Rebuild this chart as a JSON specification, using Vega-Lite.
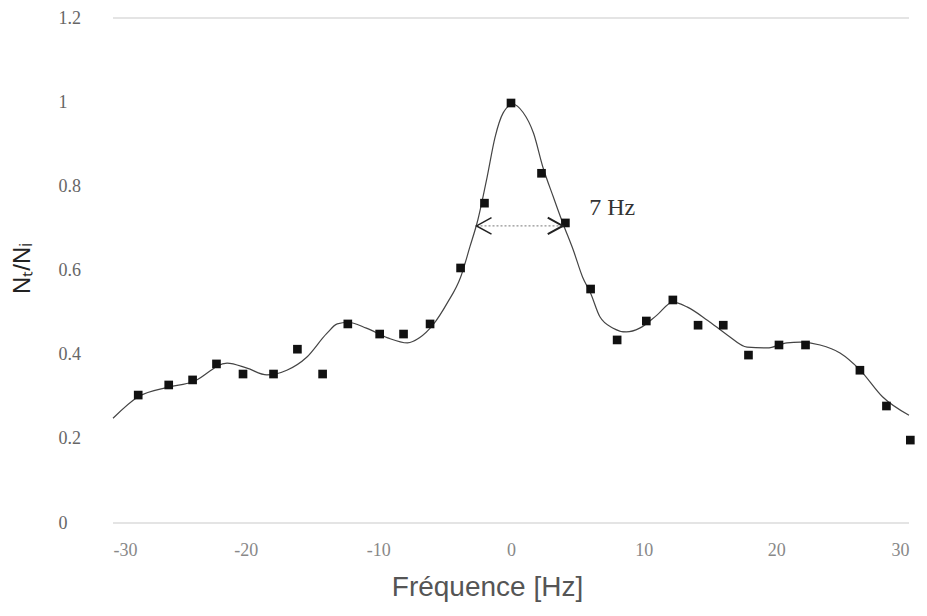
{
  "$schema": "https://vega.github.io/schema/vega-lite/v6.json",
  "width": 796,
  "height": 505,
  "autosize": {"type": "none"},
  "padding": {"left": 113, "top": 18, "right": 18, "bottom": 93},
  "background": "white",
  "config": {"view": {"stroke": null}},
  "datasets": {
    "points": [
      {"f": -28.1, "n": 0.304}, {"f": -25.8, "n": 0.328}, {"f": -24.0, "n": 0.34}, {"f": -22.2, "n": 0.378},
      {"f": -20.2, "n": 0.354}, {"f": -17.9, "n": 0.354}, {"f": -16.1, "n": 0.413}, {"f": -14.2, "n": 0.354},
      {"f": -12.3, "n": 0.473}, {"f": -9.9, "n": 0.449}, {"f": -8.1, "n": 0.449}, {"f": -6.1, "n": 0.473},
      {"f": -3.8, "n": 0.606}, {"f": -2.0, "n": 0.76}, {"f": 0.0, "n": 0.998}, {"f": 2.3, "n": 0.831},
      {"f": 4.1, "n": 0.713}, {"f": 6.0, "n": 0.556}, {"f": 8.0, "n": 0.435}, {"f": 10.2, "n": 0.48},
      {"f": 12.2, "n": 0.53}, {"f": 14.1, "n": 0.47}, {"f": 16.0, "n": 0.47}, {"f": 17.9, "n": 0.399},
      {"f": 20.2, "n": 0.423}, {"f": 22.2, "n": 0.423}, {"f": 26.3, "n": 0.363}, {"f": 28.3, "n": 0.278},
      {"f": 30.1, "n": 0.197}
    ],
    "curve": [
      {"f": -30, "n": 0.249}, {"f": -28.1, "n": 0.3}, {"f": -25.8, "n": 0.323}, {"f": -24.0, "n": 0.335},
      {"f": -21.4, "n": 0.38}, {"f": -19.9, "n": 0.368}, {"f": -18.4, "n": 0.352}, {"f": -16.9, "n": 0.363},
      {"f": -15.4, "n": 0.394}, {"f": -13.9, "n": 0.45}, {"f": -13.1, "n": 0.473}, {"f": -12.3, "n": 0.477},
      {"f": -10.9, "n": 0.463}, {"f": -9.3, "n": 0.44}, {"f": -7.8, "n": 0.428}, {"f": -6.9, "n": 0.44},
      {"f": -5.9, "n": 0.47}, {"f": -4.8, "n": 0.523}, {"f": -3.8, "n": 0.584}, {"f": -3.1, "n": 0.656},
      {"f": -2.5, "n": 0.72}, {"f": -1.8, "n": 0.822}, {"f": -1.2, "n": 0.917}, {"f": -0.6, "n": 0.974},
      {"f": 0.15, "n": 0.995}, {"f": 0.9, "n": 0.976}, {"f": 1.7, "n": 0.926}, {"f": 2.4, "n": 0.846},
      {"f": 3.2, "n": 0.774}, {"f": 3.9, "n": 0.713}, {"f": 4.7, "n": 0.648}, {"f": 5.4, "n": 0.584},
      {"f": 6.0, "n": 0.546}, {"f": 6.7, "n": 0.49}, {"f": 7.7, "n": 0.463}, {"f": 8.7, "n": 0.454},
      {"f": 9.7, "n": 0.463}, {"f": 11.0, "n": 0.494}, {"f": 12.2, "n": 0.525}, {"f": 13.3, "n": 0.513},
      {"f": 14.8, "n": 0.482}, {"f": 16.3, "n": 0.447}, {"f": 17.8, "n": 0.418}, {"f": 19.3, "n": 0.416},
      {"f": 20.8, "n": 0.428}, {"f": 21.8, "n": 0.43}, {"f": 23.3, "n": 0.423}, {"f": 24.8, "n": 0.404},
      {"f": 26.3, "n": 0.364}, {"f": 28.0, "n": 0.3}, {"f": 30.0, "n": 0.256}
    ],
    "arrow": [{"f1": -2.6, "f2": 3.9, "n": 0.706}],
    "label": [{"f": 5.9, "n": 0.748, "t": "7 Hz"}],
    "frame": [{"n": 0}, {"n": 1.2}]
  },
  "layer": [
    {
      "data": {"name": "frame"},
      "mark": {"type": "rule", "color": "#e4e4e4", "strokeWidth": 2},
      "encoding": {
        "y": {"field": "n", "type": "quantitative", "scale": {"domain": [0, 1.2], "nice": false, "zero": false},
          "axis": {
            "values": [0, 0.2, 0.4, 0.6, 0.8, 1, 1.2],
            "format": "~g",
            "domain": false, "ticks": false, "tickSize": 0, "grid": false,
            "labelAlign": "left", "labelBaseline": "middle", "labelPadding": 55,
            "labelFont": "Liberation Serif", "labelFontSize": 18, "labelColor": "#666",
            "title": "Nₜ/Nᵢ", "titleFont": "Liberation Sans", "titleFontSize": 24, "titleFontWeight": "normal",
            "titleColor": "#222", "titleAngle": -90, "titleX": -91, "titleY": 250, "titleAlign": "center", "titleBaseline": "middle"
          }
        }
      }
    },
    {
      "data": {"name": "curve"},
      "mark": {"type": "line", "interpolate": "monotone", "color": "#444", "strokeWidth": 1.2},
      "encoding": {
        "x": {"field": "f", "type": "quantitative", "scale": {"domain": [-30, 30], "nice": false},
          "axis": {
            "values": [-30, -20, -10, 0, 10, 20, 30],
            "labelExpr": "'' + datum.value",
            "domain": false, "ticks": false, "tickSize": 0, "grid": false,
            "labelPadding": 18, "labelBaseline": "top",
            "labelFont": "Liberation Serif", "labelFontSize": 18, "labelColor": "#888",
            "title": "Fréquence [Hz]", "titleFont": "Liberation Sans", "titleFontSize": 28, "titleFontWeight": "normal",
            "titleColor": "#555", "titleX": 374, "titleAlign": "center", "titlePadding": 14
          }
        },
        "y": {"field": "n", "type": "quantitative"}
      }
    },
    {
      "data": {"name": "points"},
      "mark": {"type": "point", "shape": "square", "filled": true, "size": 75, "color": "#111", "opacity": 1},
      "encoding": {
        "x": {"field": "f", "type": "quantitative"},
        "y": {"field": "n", "type": "quantitative"}
      }
    },
    {
      "data": {"name": "arrow"},
      "mark": {"type": "rule", "color": "#777", "strokeWidth": 1, "strokeDash": [2, 2]},
      "encoding": {
        "x": {"field": "f1", "type": "quantitative"},
        "x2": {"field": "f2"},
        "y": {"field": "n", "type": "quantitative"}
      }
    },
    {
      "data": {"name": "arrow"},
      "mark": {"type": "point", "shape": "M1,-0.55L0,0L1,0.55", "filled": false, "size": 900, "color": "#222", "strokeWidth": 1.5, "opacity": 1},
      "encoding": {
        "x": {"field": "f1", "type": "quantitative"},
        "y": {"field": "n", "type": "quantitative"}
      }
    },
    {
      "data": {"name": "arrow"},
      "mark": {"type": "point", "shape": "M-1,-0.55L0,0L-1,0.55", "filled": false, "size": 900, "color": "#222", "strokeWidth": 2, "opacity": 1},
      "encoding": {
        "x": {"field": "f2", "type": "quantitative"},
        "y": {"field": "n", "type": "quantitative"}
      }
    },
    {
      "data": {"name": "label"},
      "mark": {"type": "text", "align": "left", "baseline": "middle", "font": "Liberation Serif", "fontSize": 24, "color": "#333"},
      "encoding": {
        "x": {"field": "f", "type": "quantitative"},
        "y": {"field": "n", "type": "quantitative"},
        "text": {"field": "t"}
      }
    }
  ]
}
